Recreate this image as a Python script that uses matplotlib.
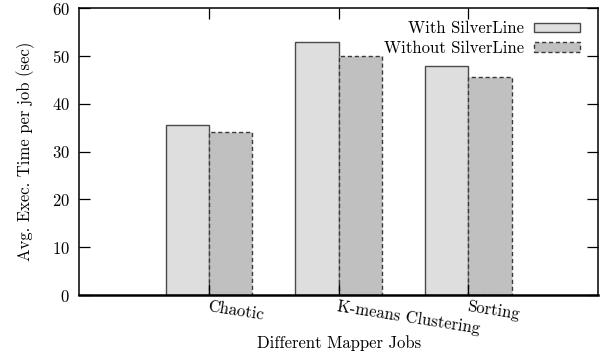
import matplotlib
matplotlib.use("Agg")
import matplotlib.pyplot as plt
import numpy as np

# average execution time per job (sec)
jobs = ["Chaotic", "K-means Clustering", "Sorting"]
with_silverline = [35.5, 53.0, 48.0]
without_silverline = [34.0, 50.0, 45.5]

plt.rcParams["font.family"] = "cmr10"
plt.rcParams["axes.formatter.use_mathtext"] = True
plt.rcParams["font.size"] = 12

fig = plt.figure(figsize=(6.0, 3.55), dpi=100)
ax = fig.add_axes([0.132, 0.169, 0.865, 0.808])

x = np.arange(1, len(jobs) + 1)
w = 1.0 / 3

ax.bar(x - w / 2, with_silverline, w, color="#dedede", edgecolor="#4a4a4a",
       linewidth=1.0, label="With SilverLine")
ax.bar(x + w / 2, without_silverline, w, color="#c0c0c0", edgecolor="#3a3a3a",
       linewidth=1.0, linestyle=(0, (3, 2)), label="Without SilverLine")

ax.set_xlim(0, 4)
ax.set_ylim(0, 60)
ax.set_yticks(range(0, 61, 10))
ax.set_xticks(x)
ax.set_xticklabels(jobs, rotation=-9, ha="left", va="top", rotation_mode="anchor")
ax.tick_params(axis="both", direction="in", length=8, width=0.9,
               top=True, right=True)
ax.tick_params(axis="x", pad=3)
ax.tick_params(axis="y", pad=7)

for s in ax.spines.values():
    s.set_linewidth(1.1)
ax.spines["bottom"].set_linewidth(1.8)

ax.set_ylabel("Avg. Exec. Time per job (sec)", labelpad=12)
ax.set_xlabel("Different Mapper Jobs")
# fixed position so the rotated tick labels don't push it off the figure
ax.xaxis.set_label_coords(0.5, -0.14)

leg = ax.legend(loc="upper right", bbox_to_anchor=(0.985, 0.99), frameon=False,
                markerfirst=False, handlelength=2.8, handleheight=0.5,
                handletextpad=0.6, labelspacing=0.25, borderaxespad=0.2)

fig.savefig("out.png", dpi=100)
